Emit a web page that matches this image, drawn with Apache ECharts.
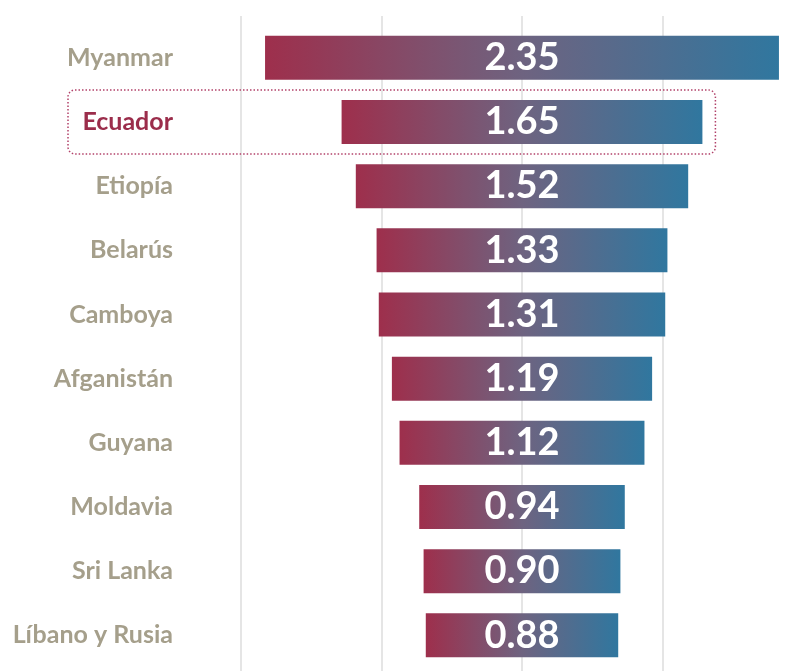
<!DOCTYPE html>
<html><head><meta charset="utf-8">
<script src="https://cdn.jsdelivr.net/npm/echarts@6/dist/echarts.min.js"></script>
<style>html,body{margin:0;padding:0;background:#fff;overflow:hidden;width:791px;height:671px}#c{width:820px;height:671px}</style>
</head><body><div id="c"></div>
<script>
const categories = ['Myanmar','Ecuador','Etiopía','Belarús','Camboya','Afganistán','Guyana','Moldavia','Sri Lanka','Líbano y Rusia'];
const values = [2.35,1.65,1.52,1.33,1.31,1.19,1.12,0.94,0.90,0.88];
const highlight = 'Ecuador';

const AX_MAX = 2.57, AX_INT = 0.6425;
const offsets = values.map(v => +(AX_MAX/2 - v/2).toFixed(4));

const grad = new echarts.graphic.LinearGradient(0,0,1,0,[
  {offset:0,color:'#9e2f4c'},{offset:0.5,color:'#6e6380'},{offset:1,color:'#30779f'}]);

const chart = echarts.init(document.getElementById('c'), null, {renderer:'canvas'});
const FONT = 'Lato';
const option = {
  animation:false,
  backgroundColor:'#fff',
  grid:[
    {left:241,width:562,top:25.7,height:641.7,outerBoundsMode:'none'},
    {left:241,width:562,top:16,height:655,outerBoundsMode:'none'}
  ],
  xAxis:[
    {gridIndex:0,type:'value',min:0,max:AX_MAX,interval:AX_INT,show:false},
    {gridIndex:1,type:'value',min:0,max:AX_MAX,interval:AX_INT,
     axisLine:{show:false},axisTick:{show:false},axisLabel:{show:false},
     splitLine:{show:true,lineStyle:{color:'#dddddd',width:1.5}}}
  ],
  yAxis:[
    {gridIndex:0,type:'category',data:categories,inverse:true,
     axisLine:{show:false},axisTick:{show:false},splitLine:{show:false},
     axisLabel:{margin:68,fontFamily:FONT,fontWeight:'bold',fontSize:25,
       color:(v)=> v===highlight ? '#9b2d4b' : '#a59f8b'}},
    {gridIndex:1,type:'value',min:0,max:1,show:false}
  ],
  series:[
    {type:'bar',xAxisIndex:0,yAxisIndex:0,stack:'s',data:offsets,barWidth:44,
     itemStyle:{color:'transparent'},silent:true},
    {type:'bar',xAxisIndex:0,yAxisIndex:0,stack:'s',data:values,barWidth:44,
     itemStyle:{color:grad},
     label:{show:true,position:'inside',formatter:(p)=>p.value.toFixed(2),
       color:'#fff',fontFamily:FONT,fontWeight:'bold',fontSize:38}},
    {type:'line',xAxisIndex:1,yAxisIndex:1,data:[],silent:true}
  ]
};
chart.setOption(option);

const hi = categories.indexOf(highlight);
const yC = chart.convertToPixel({yAxisIndex:0}, categories[hi]);
const xR = chart.convertToPixel({xAxisIndex:0}, AX_MAX/2 + values[hi]/2);
chart.setOption({graphic:[{type:'rect',shape:{x:68,y:yC-32,width:xR+13-68,height:64,r:7},
  style:{fill:'none',stroke:'#b2426a',lineWidth:1.5,lineDash:[1.5,2]},silent:true}]});
</script></body></html>
